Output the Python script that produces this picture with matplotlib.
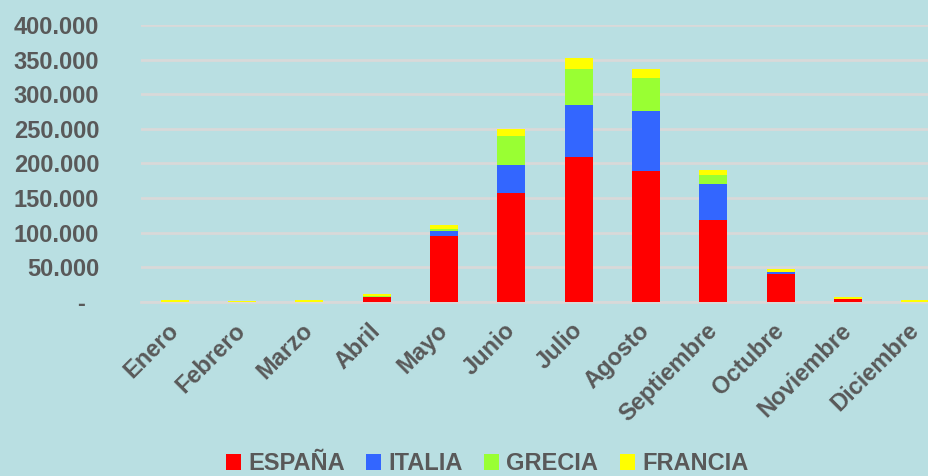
import matplotlib.pyplot as plt
import numpy as np
from matplotlib.patches import Patch
from matplotlib.ticker import FuncFormatter

# ==========================================
# DATA
# ==========================================
meses = ["Enero", "Febrero", "Marzo", "Abril", "Mayo", "Junio", "Julio",
         "Agosto", "Septiembre", "Octubre", "Noviembre", "Diciembre"]
espana  = [0,   0,   0,   7000, 96000, 157000, 209000, 189000, 119000, 41000, 4000, 0]
italia  = [0,   0,   0,   500,  6000,  41000,  75500,  87000,  51000,  2000,  0,    0]
grecia  = [0,   0,   0,   500,  3000,  41000,  52500,  47000,  13000,  500,   0,    0]
francia = [2500, 1500, 2500, 3000, 6000, 10500,  16000,  14000,  8000,   3500,  3000, 3000]

series = [("ESPAÑA", espana, "#FF0000"),
          ("ITALIA", italia, "#3366FF"),
          ("GRECIA", grecia, "#99FF33"),
          ("FRANCIA", francia, "#FFFF00")]

bg = "#B9DFE2"
txt = "#595959"
fs = 17
plt.rcParams['font.family'] = ['Liberation Sans', 'DejaVu Sans']

fig = plt.figure(figsize=(9.29, 4.76), dpi=100, facecolor=bg)
ax = fig.add_axes([141 / 929, 1 - 302 / 476, 808 / 929, 277 / 476])
ax.set_facecolor(bg)

x = np.arange(len(meses))
bottom = np.zeros(len(meses))
for name, vals, col in series:
    ax.bar(x, vals, 0.42, bottom=bottom, color=col, zorder=3)
    bottom += np.array(vals)

ax.set_xlim(-0.5, len(meses) - 0.5)
ax.set_ylim(0, 400000)
ax.set_yticks(np.arange(0, 400001, 50000))
# accounting style: zero shown as a dash, dot as thousands separator
ax.yaxis.set_major_formatter(FuncFormatter(
    lambda v, p: "-  " if v == 0 else f"{int(v):,}".replace(",", ".")))
ax.grid(axis="y", color="#D9D9D9", linewidth=2, zorder=0)
ax.set_axisbelow(True)

for s in ["top", "right", "left"]:
    ax.spines[s].set_visible(False)
ax.spines["bottom"].set_color("#D9D9D9")
ax.spines["bottom"].set_linewidth(2)

ax.tick_params(axis="y", length=0, pad=30, labelsize=fs, labelcolor=txt)
ax.tick_params(axis="x", length=0, pad=18, labelsize=fs, labelcolor=txt)
for lab in ax.get_yticklabels():
    lab.set_fontweight("bold")
ax.set_xticks(x)
ax.set_xticklabels(meses, rotation=45, ha="right", va="center",
                   rotation_mode="anchor", fontweight="bold")

handles = [Patch(facecolor=c, label=n) for n, _, c in series]
leg = fig.legend(handles=handles, loc="center", bbox_to_anchor=(487 / 929, 1 - 464 / 476),
                 ncol=4, frameon=False, handlelength=0.65, handleheight=0.65,
                 handletextpad=0.3, columnspacing=0.9, borderpad=0.2,
                 prop={"size": fs, "weight": "bold"})
for t in leg.get_texts():
    t.set_color(txt)

plt.savefig("out.png", dpi=100, facecolor=bg)
